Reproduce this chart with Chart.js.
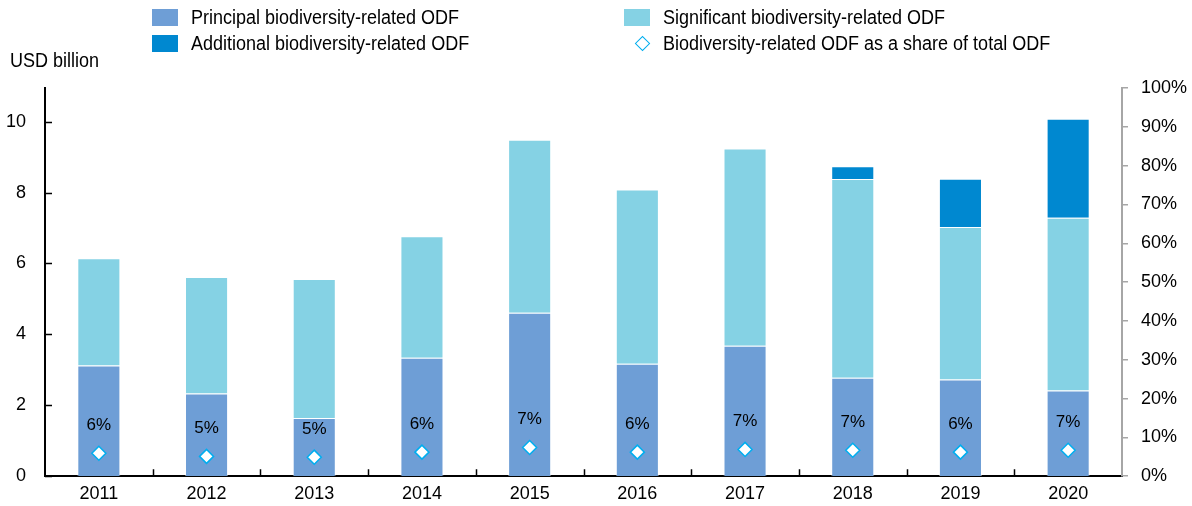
<!DOCTYPE html>
<html>
<head>
<meta charset="utf-8">
<script src="https://cdn.jsdelivr.net/npm/chart.js@4.4.1/dist/chart.umd.min.js"></script>
<style>
  html, body { margin: 0; padding: 0; background: #fff; }
  #wrap { position: relative; width: 1192px; height: 506px; }
  #chart { position: absolute; left: 0; top: 0; }
  .legend { position: absolute; left: 0; top: 0; font-family: "Liberation Sans", Arial, sans-serif; font-size: 20px; color: #000; }
  .item { position: absolute; white-space: nowrap; line-height: 22px; transform: scaleX(0.9); transform-origin: left center; }
  .sw { position: absolute; width: 26px; height: 17px; }
  .unit { position: absolute; left: 10px; top: 49px; line-height: 22px; font-family: "Liberation Sans", Arial, sans-serif; font-size: 20px; white-space: nowrap; transform: scaleX(0.9); transform-origin: left center; }
</style>
</head>
<body>
<div id="wrap">
  <canvas id="chart" width="1192" height="506"></canvas>
  <div class="unit">USD billion</div>
  <div class="legend" id="legend"></div>
</div>
<script>
const years = ["2011", "2012", "2013", "2014", "2015", "2016", "2017", "2018", "2019", "2020"];
const principal = [3.12, 2.33, 1.64, 3.34, 4.61, 3.17, 3.68, 2.78, 2.73, 2.42];
const significant = [3.03, 3.29, 3.92, 3.43, 4.88, 4.92, 5.56, 5.60, 4.30, 4.87];
const additional = [0, 0, 0, 0, 0, 0, 0, 0.36, 1.36, 2.79];
const sharePct = [5.9, 5.1, 4.9, 6.2, 7.4, 6.2, 6.9, 6.7, 6.2, 6.7];
const shareLabels = ["6%", "5%", "5%", "6%", "7%", "6%", "7%", "7%", "6%", "7%"];
const leftTicks = [0, 2, 4, 6, 8, 10];

const COLORS = {
  principal: "#6e9ed6",
  significant: "#85d2e4",
  additional: "#0088d0",
  diamond: "#00aeef"
};
const FONT = "'Liberation Sans', Arial, sans-serif";

// legend, two columns
const legendItems = [
  { label: "Principal biodiversity-related ODF", color: COLORS.principal, x: 152, y: 9 },
  { label: "Additional biodiversity-related ODF", color: COLORS.additional, x: 152, y: 35 },
  { label: "Significant biodiversity-related ODF", color: COLORS.significant, x: 624, y: 9 },
  { label: "Biodiversity-related ODF as a share of total ODF", diamond: true, x: 624, y: 35 }
];
const leg = document.getElementById("legend");
legendItems.forEach(it => {
  if (it.diamond) {
    const d = document.createElement("div");
    d.style.cssText = `position:absolute;left:${it.x + 13}px;top:${it.y + 3}px;width:9px;height:9px;border:1.5px solid ${COLORS.diamond};transform:rotate(45deg);background:#fff;`;
    leg.appendChild(d);
  } else {
    const s = document.createElement("div");
    s.className = "sw";
    s.style.left = it.x + "px";
    s.style.top = it.y + "px";
    s.style.background = it.color;
    leg.appendChild(s);
  }
  const t = document.createElement("div");
  t.className = "item";
  t.style.left = (it.x + 39) + "px";
  t.style.top = (it.y - 3) + "px";
  t.textContent = it.label;
  leg.appendChild(t);
});

// inward tick marks on left and bottom axes
const innerTicks = {
  id: "innerTicks",
  afterDraw(chart) {
    const { ctx, chartArea, scales } = chart;
    ctx.save();
    ctx.strokeStyle = "#000";
    ctx.lineWidth = 1.5;
    ctx.beginPath();
    leftTicks.forEach(v => {
      const y = Math.round(scales.y.getPixelForValue(v)) + 0.5;
      ctx.moveTo(chartArea.left, y);
      ctx.lineTo(chartArea.left + 7, y);
    });
    const step = (scales.x.getPixelForValue(1) - scales.x.getPixelForValue(0));
    for (let i = 1; i < years.length; i++) {
      const x = Math.round(scales.x.getPixelForValue(i) - step / 2) + 0.5;
      ctx.moveTo(x, chartArea.bottom);
      ctx.lineTo(x, chartArea.bottom - 7);
    }
    ctx.stroke();
    ctx.restore();
  }
};

// percentage labels above the diamonds
const shareText = {
  id: "shareText",
  afterDatasetsDraw(chart) {
    const meta = chart.getDatasetMeta(3);
    const { ctx } = chart;
    ctx.save();
    ctx.font = "17px " + FONT;
    ctx.fillStyle = "#000";
    ctx.textAlign = "center";
    ctx.textBaseline = "middle";
    meta.data.forEach((pt, i) => {
      ctx.fillText(shareLabels[i], pt.x, pt.y - 28);
    });
    ctx.restore();
  }
};

new Chart(document.getElementById("chart"), {
  type: "bar",
  data: {
    labels: years,
    datasets: [
      { label: "Principal biodiversity-related ODF", data: principal, backgroundColor: COLORS.principal, borderColor: "rgba(255,255,255,0.45)", borderWidth: 1, yAxisID: "y", order: 1, categoryPercentage: 0.4, barPercentage: 1 },
      { label: "Significant biodiversity-related ODF", data: significant, backgroundColor: COLORS.significant, borderColor: "rgba(255,255,255,0.45)", borderWidth: 1, yAxisID: "y", order: 1, categoryPercentage: 0.4, barPercentage: 1 },
      { label: "Additional biodiversity-related ODF", data: additional, backgroundColor: COLORS.additional, borderColor: "rgba(255,255,255,0.45)", borderWidth: 1, yAxisID: "y", order: 1, categoryPercentage: 0.4, barPercentage: 1 },
      { type: "line", label: "Biodiversity-related ODF as a share of total ODF", data: sharePct, yAxisID: "y2", showLine: false, order: 0,
        pointStyle: "rectRot", pointRadius: 7, pointBackgroundColor: "#fff", pointBorderColor: COLORS.diamond, pointBorderWidth: 1.5 }
    ]
  },
  options: {
    responsive: false,
    animation: false,
    layout: { padding: { top: 88 } },
    plugins: { legend: { display: false }, tooltip: { enabled: false } },
    scales: {
      x: {
        stacked: true,
        offset: true,
        grid: { display: false, drawTicks: false },
        border: { display: true, color: "#000", width: 2 },
        ticks: { color: "#000", font: { family: FONT, size: 18 }, padding: 7, maxRotation: 0 },
        afterFit(s) { s.height = 28; }
      },
      y: {
        stacked: true,
        position: "left",
        min: 0,
        max: 10.95,
        afterBuildTicks(s) { s.ticks = leftTicks.map(v => ({ value: v })); },
        grid: { display: false, drawTicks: false },
        border: { display: true, color: "#000", width: 2 },
        ticks: { color: "#000", font: { family: FONT, size: 18 }, padding: 19 },
        afterFit(s) { s.width = 45; }
      },
      y2: {
        position: "right",
        min: 0,
        max: 100,
        ticks: { stepSize: 10, color: "#000", font: { family: FONT, size: 18 }, padding: 13, callback: v => v + "%" },
        grid: { drawOnChartArea: false, drawTicks: true, tickLength: 6, color: "#a6a6a6", lineWidth: 1.5 },
        border: { display: true, color: "#a6a6a6", width: 2 },
        afterFit(s) { s.width = 70; }
      }
    }
  },
  plugins: [innerTicks, shareText]
});
</script>
</body>
</html>
